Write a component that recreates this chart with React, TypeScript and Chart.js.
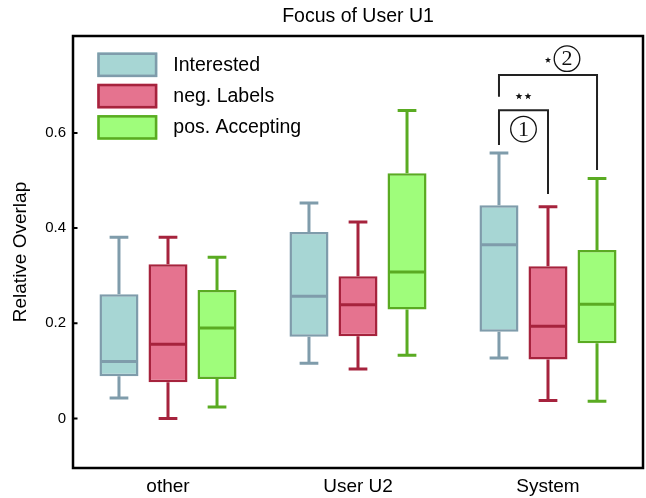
import React, { useEffect, useRef } from 'react';
import { Chart, registerables } from 'chart.js';

Chart.register(...registerables);

const SANS = '"Liberation Sans", Arial, Helvetica, sans-serif';
const SERIF = '"Liberation Serif", "DejaVu Serif", serif';

const categories = ['other', 'User U2', 'System'];
const yTicks = [0, 0.2, 0.4, 0.6];

// Box-plot statistics per category (other, User U2, System)
const interestedLow = [0.043, 0.116, 0.127];
const interestedQ1 = [0.089, 0.172, 0.182];
const interestedMedian = [0.12, 0.257, 0.365];
const interestedQ3 = [0.261, 0.392, 0.448];
const interestedHigh = [0.381, 0.453, 0.558];

const negLow = [0.0, 0.104, 0.038];
const negQ1 = [0.076, 0.173, 0.124];
const negMedian = [0.156, 0.239, 0.194];
const negQ3 = [0.324, 0.299, 0.32];
const negHigh = [0.381, 0.413, 0.445];

const posLow = [0.024, 0.133, 0.036];
const posQ1 = [0.083, 0.229, 0.158];
const posMedian = [0.19, 0.308, 0.24];
const posQ3 = [0.27, 0.515, 0.354];
const posHigh = [0.339, 0.647, 0.504];

const seriesLabels = ['Interested', 'neg. Labels', 'pos. Accepting'];
const fillColors = ['#a7d6d4', '#e5738f', '#9ffd7b'];
const edgeColors = ['#7f9cab', '#a6233d', '#5aab22'];

const boxStats = [
  { low: interestedLow, q1: interestedQ1, median: interestedMedian, q3: interestedQ3, high: interestedHigh },
  { low: negLow, q1: negQ1, median: negMedian, q3: negQ3, high: negHigh },
  { low: posLow, q1: posQ1, median: posMedian, q3: posQ3, high: posHigh },
];

// Significance brackets in the "System" group
const sigBrackets = [
  { category: 2, from: 0, to: 1, level: 0.6475, fromEnd: 0.5746, toEnd: 0.4716, stars: 2, starLevel: 0.677, mark: '1', markLevel: 0.608, markShift: 0 },
  { category: 2, from: 0, to: 2, level: 0.7216, fromEnd: 0.676, toEnd: 0.522, stars: 1, starLevel: 0.753, mark: '2', markLevel: 0.756, markShift: 19 },
];

function drawStar(ctx: CanvasRenderingContext2D, cx: number, cy: number, r: number) {
  ctx.beginPath();
  for (let k = 0; k < 10; k++) {
    const a = -Math.PI / 2 + (k * Math.PI) / 5;
    const rr = k % 2 === 0 ? r : r * 0.42;
    const px = cx + rr * Math.cos(a);
    const py = cy + rr * Math.sin(a);
    if (k === 0) ctx.moveTo(px, py);
    else ctx.lineTo(px, py);
  }
  ctx.closePath();
  ctx.fill();
}

const whiskerPlugin = {
  id: 'boxWhiskers',
  beforeDatasetsDraw(chart: any) {
    const y = chart.scales.y;
    const ctx: CanvasRenderingContext2D = chart.ctx;
    ctx.save();
    ctx.lineCap = 'butt';
    boxStats.forEach((s, i) => {
      const meta = chart.getDatasetMeta(i);
      meta.data.forEach((bar: any, j: number) => {
        const x = bar.x;
        const capHalf = bar.width * 0.24;
        const yLow = y.getPixelForValue(s.low[j]);
        const yQ1 = y.getPixelForValue(s.q1[j]);
        const yQ3 = y.getPixelForValue(s.q3[j]);
        const yHigh = y.getPixelForValue(s.high[j]);
        ctx.strokeStyle = edgeColors[i];
        ctx.lineWidth = 3;
        ctx.beginPath();
        ctx.moveTo(x, yQ3);
        ctx.lineTo(x, yHigh);
        ctx.moveTo(x - capHalf, yHigh);
        ctx.lineTo(x + capHalf, yHigh);
        ctx.moveTo(x, yQ1);
        ctx.lineTo(x, yLow);
        ctx.moveTo(x - capHalf, yLow);
        ctx.lineTo(x + capHalf, yLow);
        ctx.stroke();
      });
    });
    ctx.restore();
  },
  afterDatasetsDraw(chart: any) {
    const y = chart.scales.y;
    const ctx: CanvasRenderingContext2D = chart.ctx;
    ctx.save();
    boxStats.forEach((s, i) => {
      const meta = chart.getDatasetMeta(i);
      meta.data.forEach((bar: any, j: number) => {
        const ym = y.getPixelForValue(s.median[j]);
        ctx.strokeStyle = edgeColors[i];
        ctx.lineWidth = 3;
        ctx.beginPath();
        ctx.moveTo(bar.x - bar.width / 2 + 1, ym);
        ctx.lineTo(bar.x + bar.width / 2 - 1, ym);
        ctx.stroke();
      });
    });
    ctx.restore();
  },
};

const framePlugin = {
  id: 'frameAndExtras',
  afterDraw(chart: any) {
    const ctx: CanvasRenderingContext2D = chart.ctx;
    const area = chart.chartArea;
    const y = chart.scales.y;
    ctx.save();

    // frame
    ctx.strokeStyle = '#000';
    ctx.lineWidth = 2.5;
    ctx.strokeRect(area.left, area.top, area.right - area.left, area.bottom - area.top);

    // inward tick marks on the value axis
    ctx.lineWidth = 2;
    ctx.beginPath();
    yTicks.forEach((v) => {
      const py = y.getPixelForValue(v);
      ctx.moveTo(area.left, py);
      ctx.lineTo(area.left + 4.5, py);
    });
    ctx.stroke();

    // legend
    const lx = area.left + 24.3;
    const ly = area.top + 16.5;
    const bw = 60;
    const bh = 24.6;
    const pitch = 31.3;
    chart.data.datasets.forEach((ds: any, i: number) => {
      const top = ly + i * pitch;
      ctx.fillStyle = ds.backgroundColor;
      ctx.fillRect(lx, top, bw, bh);
      ctx.strokeStyle = ds.borderColor;
      ctx.lineWidth = 2.5;
      ctx.strokeRect(lx + 1.25, top + 1.25, bw - 2.5, bh - 2.5);
      ctx.fillStyle = '#000';
      ctx.font = `19.5px ${SANS}`;
      ctx.textAlign = 'left';
      ctx.textBaseline = 'middle';
      ctx.fillText(ds.label, lx + 76, top + bh / 2 + 0.5);
    });

    // significance brackets
    sigBrackets.forEach((b) => {
      const xa = chart.getDatasetMeta(b.from).data[b.category].x;
      const xb = chart.getDatasetMeta(b.to).data[b.category].x;
      const yl = y.getPixelForValue(b.level);
      ctx.strokeStyle = '#222';
      ctx.lineWidth = 2;
      ctx.beginPath();
      ctx.moveTo(xa, y.getPixelForValue(b.fromEnd));
      ctx.lineTo(xa, yl);
      ctx.lineTo(xb, yl);
      ctx.lineTo(xb, y.getPixelForValue(b.toEnd));
      ctx.stroke();

      const mid = (xa + xb) / 2;
      ctx.fillStyle = '#111';
      const sy = y.getPixelForValue(b.starLevel);
      if (b.stars === 2) {
        drawStar(ctx, mid - 4.5, sy, 3.6);
        drawStar(ctx, mid + 4.5, sy, 3.6);
      } else {
        drawStar(ctx, mid, sy, 3.2);
      }

      const cx = mid + b.markShift;
      const cy = y.getPixelForValue(b.markLevel);
      ctx.strokeStyle = '#111';
      ctx.lineWidth = 1.3;
      ctx.beginPath();
      ctx.arc(cx, cy, 12.8, 0, Math.PI * 2);
      ctx.stroke();
      ctx.font = `22px ${SERIF}`;
      ctx.textAlign = 'center';
      ctx.textBaseline = 'middle';
      ctx.fillText(b.mark, cx, cy + 1);
    });

    ctx.restore();
  },
};

export default function App() {
  const canvasRef = useRef<HTMLCanvasElement>(null);

  useEffect(() => {
    document.body.style.margin = '0';
    const canvas = canvasRef.current;
    if (!canvas) return;

    const chart = new Chart(canvas, {
      type: 'bar',
      data: {
        labels: categories,
        datasets: boxStats.map((s, i) => ({
          label: seriesLabels[i],
          data: s.q1.map((v, j) => [v, s.q3[j]]),
          backgroundColor: fillColors[i],
          borderColor: edgeColors[i],
          borderWidth: 2.5,
          borderSkipped: false,
          categoryPercentage: 0.774,
          barPercentage: 0.796,
        })),
      } as any,
      options: {
        responsive: false,
        animation: false,
        events: [],
        layout: { padding: { top: 0, left: 0, right: 3, bottom: 0 } },
        plugins: {
          legend: { display: false },
          tooltip: { enabled: false },
          title: {
            display: true,
            fullSize: false,
            text: 'Focus of User U1',
            color: '#000',
            font: { family: SANS, size: 19.5, weight: 'normal' },
            padding: { top: 5.3, bottom: 7.3 },
          },
        },
        scales: {
          x: {
            grid: { display: false, drawTicks: false },
            border: { display: false },
            ticks: { padding: 7.6, color: '#000', font: { family: SANS, size: 19 } },
            afterFit: (scale: any) => {
              scale.height = 30;
            },
          },
          y: {
            min: -0.104,
            max: 0.8036,
            grid: { display: false, drawTicks: false },
            border: { display: false },
            afterBuildTicks: (scale: any) => {
              scale.ticks = yTicks.map((v) => ({ value: v }));
            },
            afterFit: (scale: any) => {
              scale.width = 73;
            },
            ticks: {
              padding: 7,
              color: '#000',
              font: { family: SANS, size: 15 },
              callback: (v: any) => String(v),
            },
            title: {
              display: true,
              text: 'Relative Overlap',
              color: '#000',
              font: { family: SANS, size: 19 },
              padding: { top: 9.6, bottom: 0 },
            },
          },
        },
      } as any,
      plugins: [whiskerPlugin, framePlugin],
    });

    return () => chart.destroy();
  }, []);

  return (
    <div style={{ position: 'fixed', left: 0, top: 0, width: 646, height: 498, background: '#fff' }}>
      <canvas ref={canvasRef} width={646} height={498} style={{ display: 'block' }} />
    </div>
  );
}
